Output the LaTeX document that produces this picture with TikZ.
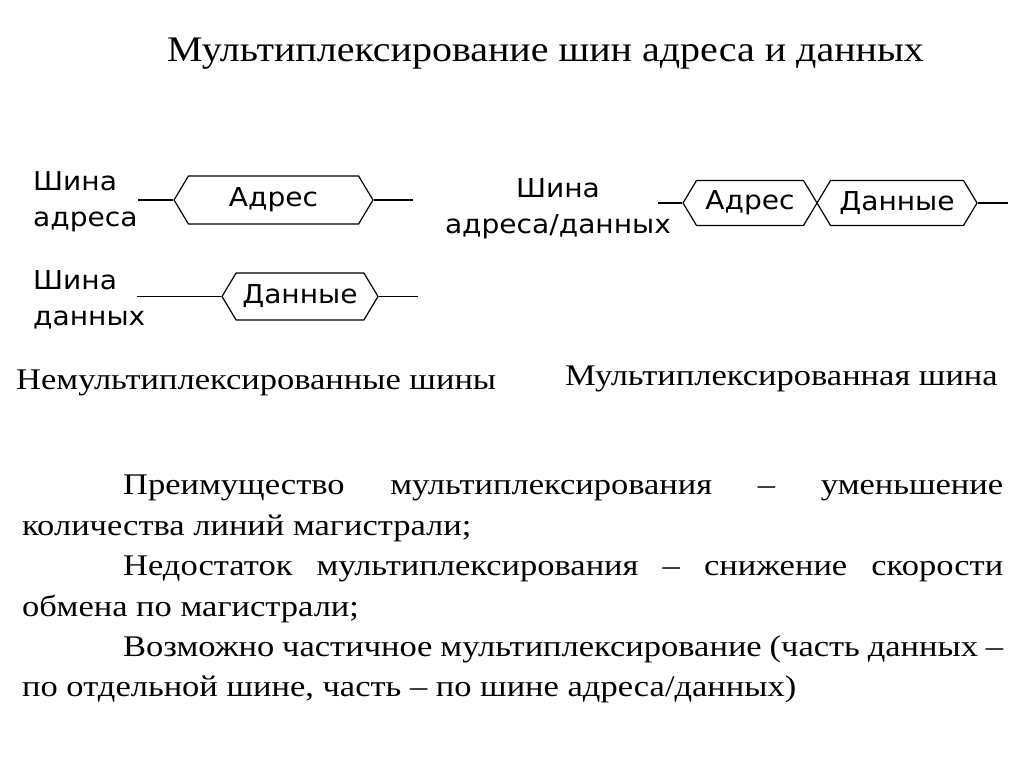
\documentclass[tikz,border=0pt]{standalone}
\usepackage{fontspec}
\setmainfont{Liberation Serif}[FakeStretch=1.15]
\newfontfamily\titlefont{Liberation Serif}[FakeStretch=1.11]
\newfontfamily\busfont{DejaVu Sans}[FakeStretch=1.08]
\usetikzlibrary{shapes.symbols,positioning}

\begin{document}
\begin{tikzpicture}[
    x=1pt, y=-1pt,
    every node/.style={inner sep=0pt},
    wire/.style={line width=1.2pt},
    bus/.style={draw, line width=1.2pt, signal, signal to=west and east,
      signal pointer angle=118, font=\busfont\fontsize{26}{26}\selectfont},
    buslbl/.style={font=\busfont\fontsize{26}{36}\selectfont},
    caption/.style={font=\fontsize{30}{34}\selectfont, anchor=base west},
]
\useasboundingbox (0,0) rectangle (1024,767);

\node[font=\titlefont\fontsize{36}{40}\selectfont, anchor=base west] (title) at (167,62)
  {Мультиплексирование шин адреса и данных};

% non-multiplexed buses
\node[bus, minimum width=199pt, minimum height=48pt] (adr) at (273.5,200) {Адрес};
\node[bus, minimum width=156pt, minimum height=47pt] (dat) at (300,296.5) {Данные};
\coordinate (adrin) at (138,200);
\coordinate (adrout) at (413,200);
\coordinate (datin) at (137,296.5);
\coordinate (datout) at (418,296.5);
\draw[wire] (adrin) -- (adr.west) (adr.east) -- (adrout);
\draw[wire] (datin) -- (dat.west) (dat.east) -- (datout);

\node[buslbl, align=left, anchor=north west] (adrlbl) at (33,171) {Шина\\адреса};
\node[buslbl, align=left, anchor=north west] (datlbl) at (33,270) {Шина\\данных};

% multiplexed bus
\node[bus, minimum width=134pt, minimum height=45pt] (madr) at (750,203) {Адрес};
\node[bus, minimum width=160pt, minimum height=45pt] (mdat) at (897,203) {Данные};
\coordinate (muxin) at (658,203);
\coordinate (muxout) at (1008,203);
\draw[wire] (muxin) -- (madr.west) (mdat.east) -- (muxout);

\node[buslbl, align=center, anchor=north] (muxlbl) at (558,178) {Шина\\адреса/данных};

\node[caption] (cap1) at (16,389) {Немультиплексированные шины};
\node[caption] (cap2) at (565,385) {Мультиплексированная шина};

\node[anchor=north west, text width=981pt, align=justify,
  font=\fontsize{30}{40.4}\selectfont] (notes) at (22,475) {%
\hspace*{101pt}Преимущество мультиплексирования – уменьшение\linebreak
количества линий магистрали;\par
\hspace*{101pt}Недостаток мультиплексирования – снижение скорости\linebreak
обмена по магистрали;\par
\hspace*{101pt}Возможно частичное мультиплексирование (часть данных –\linebreak
по отдельной шине, часть – по шине адреса/данных)};
\end{tikzpicture}
\end{document}
